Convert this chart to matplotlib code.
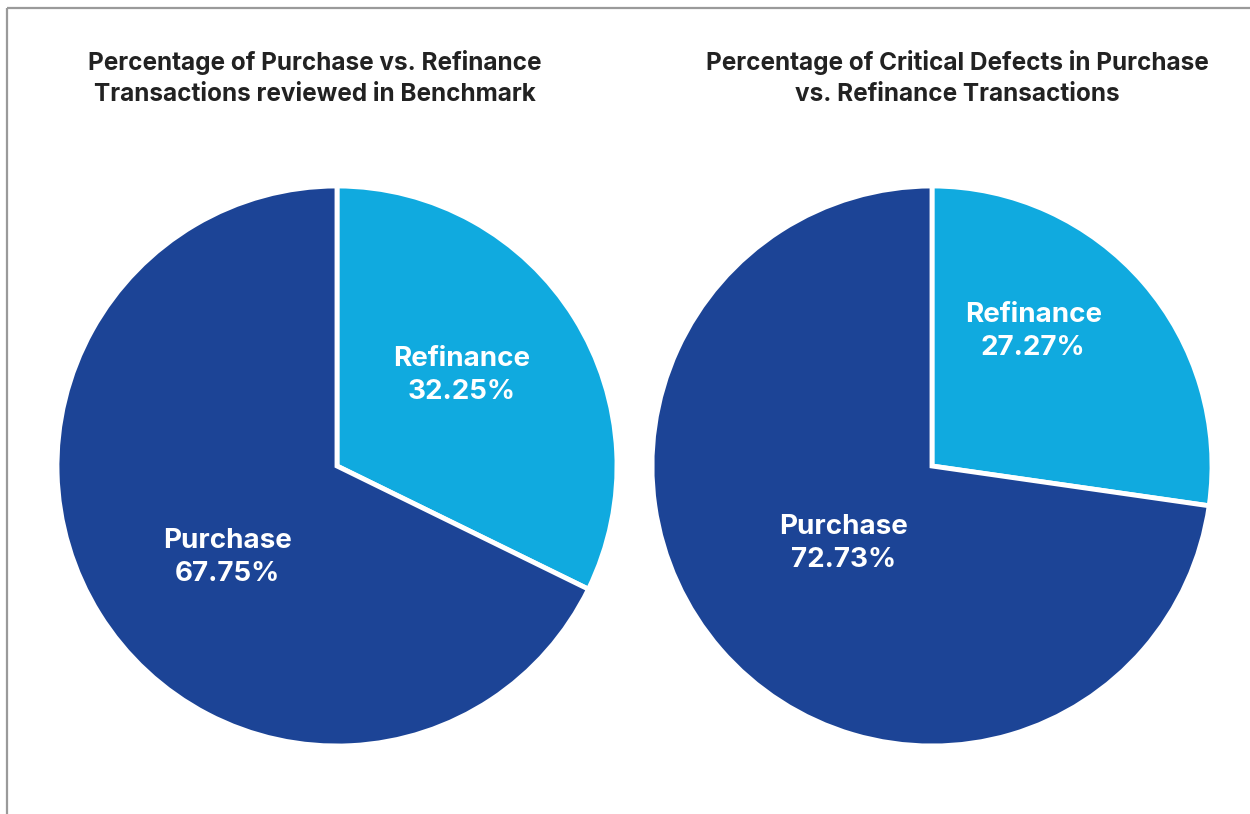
import matplotlib
matplotlib.use("Agg")
import matplotlib.pyplot as plt
import numpy as np

plt.rcParams['font.family'] = ['Inter', 'DejaVu Sans']

titles = ["Percentage of Purchase vs. Refinance\nTransactions reviewed in Benchmark",
          "Percentage of Critical Defects in Purchase\nvs. Refinance Transactions"]
categories = ["Refinance", "Purchase"]
values_left = [32.25, 67.75]
values_right = [27.27, 72.73]
colors = ["#10AADF", "#1C4496"]

W, H = 1250, 814
fig = plt.figure(figsize=(W / 100, H / 100), dpi=100)
ax = fig.add_axes([0, 0, 1, 1])
ax.set_xlim(0, W)
ax.set_ylim(0, H)
ax.set_aspect('equal')
ax.axis('off')

# frame lines (top and left)
ax.plot([7, W], [H - 8, H - 8], color="#9a9a9a", lw=1.6, solid_capstyle='butt')
ax.plot([7, 7], [0, H - 8], color="#9a9a9a", lw=1.6, solid_capstyle='butt')

R = 280
panels = [
    dict(vals=values_left, cx=337, cy=H - 466, title=titles[0], tx=315,
         dist=[0.55, 0.51], shift=[4, 8]),
    dict(vals=values_right, cx=932, cy=H - 466, title=titles[1], tx=957,
         dist=[0.60, 0.42], shift=[12, 0]),
]

for p in panels:
    wedges, _ = ax.pie(p['vals'], colors=colors, startangle=90, counterclock=False,
                       center=(p['cx'], p['cy']), radius=R,
                       wedgeprops=dict(edgecolor='white', linewidth=3.5))
    ax.set_xlim(0, W)
    ax.set_ylim(0, H)
    for w, cat, v, d, s in zip(wedges, categories, p['vals'], p['dist'], p['shift']):
        mid = np.deg2rad((w.theta1 + w.theta2) / 2 + s)
        x = p['cx'] + d * R * np.cos(mid)
        y = p['cy'] + d * R * np.sin(mid)
        ax.text(x, y, f"{cat}\n{v:.2f}%", ha='center', va='center', color='white',
                fontsize=20, fontweight='bold', linespacing=1.35)
    ax.text(p['tx'], H - 78, p['title'], ha='center', va='center', color='#222222',
            fontsize=17.5, fontweight='bold', linespacing=1.45)

fig.savefig("out.png", dpi=100)
